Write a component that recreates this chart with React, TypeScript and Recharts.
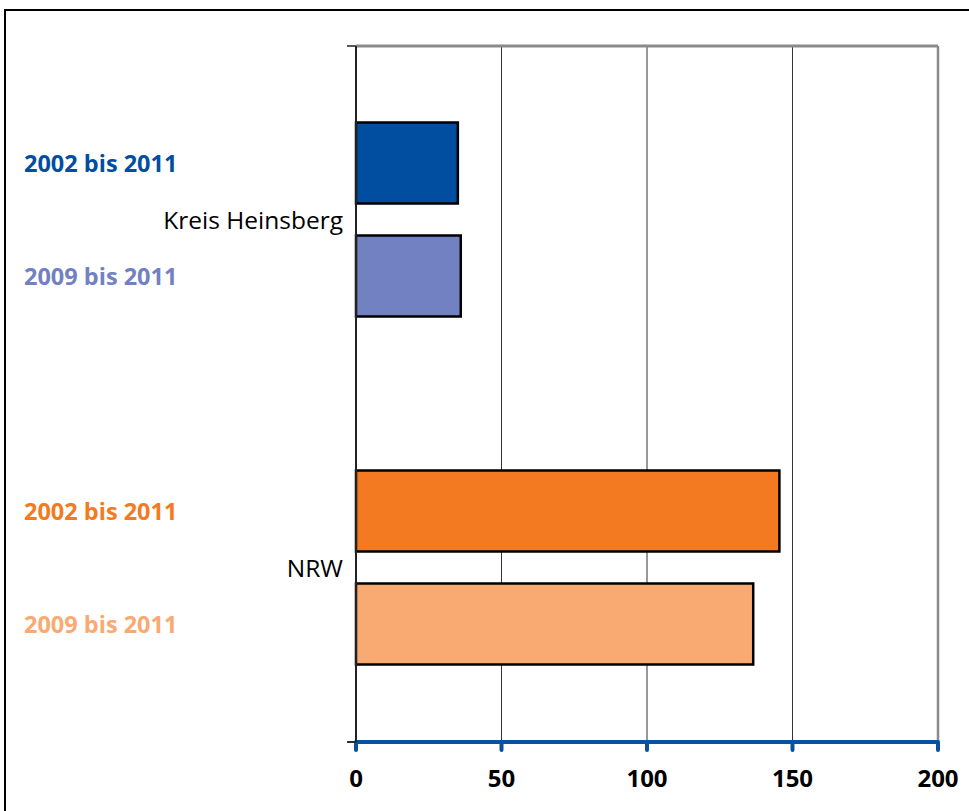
import React from "react";
import {
  BarChart,
  Bar,
  XAxis,
  YAxis,
  CartesianGrid,
  ReferenceLine,
  LabelList,
  Cell,
} from "recharts";

const categories = ["Kreis Heinsberg", "NRW"];
const seriesNames = ["2002 bis 2011", "2009 bis 2011"];
const values2002 = [35, 145.5];
const values2009 = [36, 136.5];
const colors2002 = ["#014ea1", "#f47a22"];
const colors2009 = ["#7181c1", "#f9aa72"];
const xTicks = [0, 50, 100, 150, 200];
const frameTicks = [0, 1, 2];

const data = categories.map((c, i) => ({
  name: c,
  s2002: values2002[i],
  s2009: values2009[i],
}));

const FONT = "'Open Sans', 'Noto Sans', sans-serif";

const makeLabel = (colors: string[], text: string) => (props: any) => {
  const vb = props.viewBox || {};
  const y = (props.y ?? vb.y) as number;
  const h = (props.height ?? vb.height) as number;
  const idx = props.index ?? 0;
  return (
    <text
      x={24}
      y={y + h / 2}
      dominantBaseline="central"
      fill={colors[idx]}
      fontFamily={FONT}
      fontWeight="bold"
      fontSize={23.5}
    >
      {text}
    </text>
  );
};

const EmptyTick = () => <g />;

export default function App() {
  return (
    <div
      style={{
        position: "absolute",
        left: 0,
        top: 0,
        width: 969,
        height: 811,
        overflow: "hidden",
        background: "#fff",
      }}
    >
      <div
        style={{
          position: "absolute",
          left: 4,
          top: 9,
          width: 1100,
          height: 1100,
          border: "2px solid #000",
          boxSizing: "border-box",
        }}
      />
      <div style={{ position: "absolute", left: 0, top: 0 }}>
        <BarChart
          width={969}
          height={811}
          data={data}
          layout="vertical"
          margin={{ top: 45, right: 31, bottom: 19, left: 16 }}
          barCategoryGap="22%"
          barGap={32}
        >
          <CartesianGrid
            horizontal={false}
            vertical={true}
            stroke="#333"
            strokeWidth={1}
            yAxisId="zcat"
          />
          <XAxis
            type="number"
            domain={[0, 200]}
            ticks={xTicks}
            interval={0}
            height={50}
            axisLine={{ stroke: "#0a50a0", strokeWidth: 4 }}
            tickLine={{ stroke: "#0a50a0", strokeWidth: 4, strokeLinecap: "round" }}
            tickSize={8}
            tickMargin={20}
            tick={{ fill: "#000", fontSize: 24, fontWeight: "bold", fontFamily: FONT }}
          />
          <XAxis
            xAxisId="top"
            orientation="top"
            type="number"
            domain={[0, 200]}
            height={1}
            tick={false}
            tickLine={false}
            axisLine={{ stroke: "#8a8a8a", strokeWidth: 3 }}
          />
          <YAxis
            yAxisId="afr"
            type="number"
            domain={[0, 2]}
            ticks={frameTicks}
            interval={0}
            width={1}
            tick={EmptyTick}
            tickSize={9}
            tickLine={{ stroke: "#222", strokeWidth: 1.5 }}
            axisLine={{ stroke: "#222", strokeWidth: 2 }}
          />
          <YAxis
            yAxisId="zcat"
            type="category"
            dataKey="name"
            width={339}
            axisLine={false}
            tickLine={false}
            tickSize={0}
            tickMargin={12}
            tick={{ fill: "#000", fontSize: 24.5, fontFamily: FONT }}
          />
          <ReferenceLine x={200} yAxisId="zcat" stroke="#8a8a8a" strokeWidth={2.5} />
          <ReferenceLine
            yAxisId="afr"
            segment={[
              { x: -3, y: frameTicks[1] },
              { x: 0, y: frameTicks[1] },
            ]}
            ifOverflow="visible"
            stroke="#222"
            strokeWidth={1.5}
          />
          <Bar
            dataKey="s2002"
            yAxisId="zcat"
            stroke="#000"
            strokeWidth={2.5}
            isAnimationActive={false}
          >
            {data.map((_, i) => (
              <Cell key={i} fill={colors2002[i]} />
            ))}
            <LabelList content={makeLabel(colors2002, seriesNames[0])} />
          </Bar>
          <Bar
            dataKey="s2009"
            yAxisId="zcat"
            stroke="#000"
            strokeWidth={2.5}
            isAnimationActive={false}
          >
            {data.map((_, i) => (
              <Cell key={i} fill={colors2009[i]} />
            ))}
            <LabelList content={makeLabel(colors2009, seriesNames[1])} />
          </Bar>
        </BarChart>
      </div>
    </div>
  );
}
